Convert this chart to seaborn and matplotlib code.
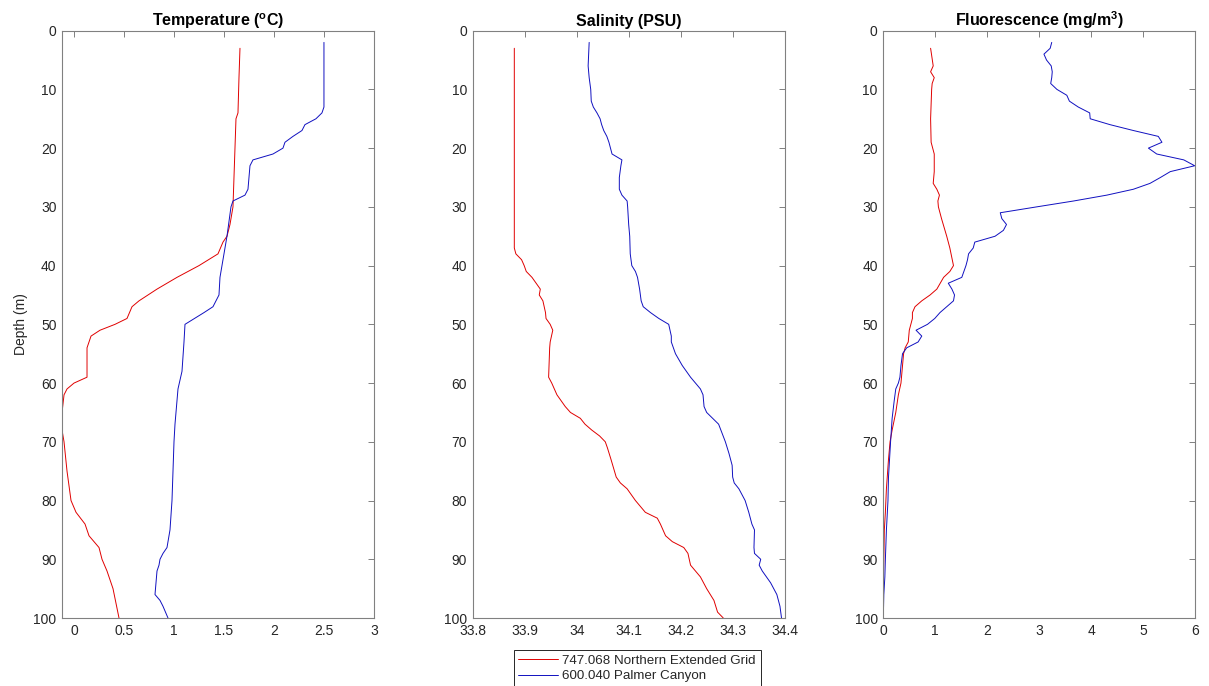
import matplotlib
matplotlib.use("Agg")
import matplotlib.pyplot as plt
import seaborn as sns

# ---------- data ----------
LABEL_N = "747.068 Northern Extended Grid"
LABEL_P = "600.040 Palmer Canyon"
COLOR_N = "#e00000"
COLOR_P = "#1010c0"

# Temperature (deg C)
temp_n_depth = [3, 8, 14, 15, 20, 25, 30, 33, 35, 36, 38, 40, 42, 44, 46, 47, 49, 50, 51, 52,
                54, 59, 60, 61, 62, 65, 68, 70, 75, 80, 82, 84, 86, 88, 90, 92, 95, 100]
temp_n = [1.66, 1.65, 1.64, 1.62, 1.61, 1.60, 1.59, 1.56, 1.53, 1.49, 1.44, 1.25, 1.03, 0.83, 0.65,
          0.58, 0.53, 0.41, 0.26, 0.17, 0.13, 0.13, 0.0, -0.07, -0.10, -0.12, -0.12, -0.10, -0.07,
          -0.03, 0.02, 0.11, 0.15, 0.25, 0.28, 0.33, 0.39, 0.45]
temp_p_depth = [2, 13, 14, 15, 16, 17, 18, 19, 20, 21, 22, 23, 27, 28, 29, 30, 35, 40, 42, 45,
                47, 48, 50, 53, 58, 61, 67, 70, 80, 85, 88, 89, 90, 91, 92, 96, 97, 98, 100]
temp_p = [2.50, 2.50, 2.48, 2.42, 2.31, 2.28, 2.19, 2.11, 2.09, 1.99, 1.79, 1.76, 1.74, 1.71, 1.59,
          1.57, 1.53, 1.48, 1.46, 1.45, 1.39, 1.30, 1.11, 1.10, 1.08, 1.04, 1.01, 1.00, 0.98, 0.96,
          0.93, 0.89, 0.86, 0.85, 0.83, 0.81, 0.86, 0.89, 0.94]

# Salinity (PSU)
sal_n_depth = [3, 37, 38, 39, 40, 41, 42, 43, 44, 45, 46, 48, 49, 50, 51, 53, 54, 59, 60, 62,
               64, 65, 66, 67, 68, 69, 70, 71, 73, 76, 77, 78, 80, 82, 83, 84, 86, 87, 88, 89,
               91, 93, 95, 97, 99, 100]
sal_n = [33.88, 33.88, 33.883, 33.894, 33.899, 33.903, 33.914, 33.922, 33.93, 33.928,
         33.935, 33.94, 33.941, 33.949, 33.954, 33.949, 33.948, 33.946, 33.952, 33.962,
         33.978, 33.988, 34.007, 34.016, 34.029, 34.044, 34.055, 34.059, 34.066, 34.076,
         34.084, 34.097, 34.113, 34.132, 34.155, 34.161, 34.171, 34.184, 34.206, 34.214,
         34.219, 34.238, 34.25, 34.264, 34.271, 34.282]
sal_p_depth = [2, 6, 8, 10, 12, 13, 14, 15, 16, 17, 18, 19, 20, 21, 22, 23, 25, 27, 28, 29,
               30, 33, 35, 38, 40, 41, 42, 44, 46, 47, 48, 49, 50, 52, 53, 55, 57, 59, 61, 62,
               64, 65, 67, 70, 72, 74, 76, 77, 78, 80, 82, 84, 85, 88, 89, 90, 91, 92, 94, 96,
               98, 100]
sal_p = [34.024, 34.022, 34.024, 34.027, 34.028, 34.032, 34.039, 34.045, 34.048, 34.052,
         34.058, 34.062, 34.065, 34.068, 34.087, 34.085, 34.082, 34.082, 34.087, 34.097,
         34.098, 34.100, 34.102, 34.103, 34.106, 34.113, 34.117, 34.121, 34.124, 34.128,
         34.142, 34.158, 34.177, 34.182, 34.182, 34.19, 34.203, 34.219, 34.238, 34.243,
         34.245, 34.25, 34.273, 34.286, 34.293, 34.299, 34.30, 34.303, 34.312, 34.324,
         34.331, 34.337, 34.342, 34.341, 34.342, 34.354, 34.351, 34.357, 34.373, 34.385,
         34.391, 34.394]

# Fluorescence (mg/m3)
fl_n_depth = [3, 6, 7, 8, 9, 10, 15, 19, 21, 24, 26, 27, 28, 29, 30, 32, 35, 37, 40, 41,
              42, 44, 45, 46, 47, 48, 49, 50, 51, 52, 53, 54, 55, 58, 60, 62, 65, 68, 70, 73,
              78, 82, 85, 90, 95, 100]
fl_n = [0.91, 0.96, 0.91, 0.98, 0.94, 0.93, 0.91, 0.92, 0.98, 0.98, 0.96, 1.03, 1.08, 1.05,
        1.06, 1.12, 1.22, 1.28, 1.35, 1.28, 1.16, 1.03, 0.90, 0.74, 0.61, 0.56, 0.56, 0.53,
        0.50, 0.49, 0.48, 0.42, 0.39, 0.36, 0.34, 0.29, 0.24, 0.17, 0.13, 0.10, 0.06, 0.04,
        0.02, 0.01, 0.0, 0.0]
fl_p_depth = [2, 3, 4, 5, 6, 7, 8, 9, 10, 11, 12, 13, 14, 15, 16, 17, 18, 19, 20, 21,
              22, 23, 24, 25, 26, 27, 28, 29, 30, 31, 32, 33, 34, 35, 36, 37, 38, 39, 40, 41,
              42, 43, 44, 45, 46, 47, 48, 49, 50, 51, 52, 53, 54, 55, 57, 59, 60, 61, 63, 66,
              70, 73, 76, 80, 85, 90, 93, 96, 100]
fl_p = [3.24, 3.21, 3.09, 3.14, 3.23, 3.25, 3.24, 3.22, 3.34, 3.53, 3.58, 3.75, 3.97, 3.98,
        4.36, 4.81, 5.29, 5.36, 5.10, 5.26, 5.78, 5.99, 5.52, 5.33, 5.13, 4.81, 4.30, 3.66,
        2.95, 2.25, 2.28, 2.37, 2.31, 2.15, 1.76, 1.73, 1.64, 1.62, 1.59, 1.55, 1.51, 1.25,
        1.32, 1.37, 1.35, 1.22, 1.09, 0.99, 0.85, 0.63, 0.74, 0.67, 0.45, 0.37, 0.34, 0.32,
        0.29, 0.24, 0.21, 0.17, 0.14, 0.12, 0.10, 0.09, 0.06, 0.04, 0.03, 0.01, 0.0]

# ---------- style ----------
sns.set_style("white")
plt.rcParams["font.family"] = ["Liberation Sans", "DejaVu Sans"]
plt.rcParams["mathtext.fontset"] = "custom"
plt.rcParams["mathtext.rm"] = "Liberation Sans:bold"

AX_COLOR = "#808080"
TXT_COLOR = "#262626"

fig = plt.figure(figsize=(12.09, 6.86), dpi=100)

panels = [
    # left, xlim, xticks, ticklabels, title, then the two profiles
    (0.0513, (-0.12, 3), [0, 0.5, 1, 1.5, 2, 2.5, 3],
     ["0", "0.5", "1", "1.5", "2", "2.5", "3"],
     r"Temperature ($\mathrm{^o}$C)",
     temp_n_depth, temp_n, temp_p_depth, temp_p),
    (0.3910, (33.8, 34.4), [33.8, 33.9, 34.0, 34.1, 34.2, 34.3, 34.4],
     ["33.8", "33.9", "34", "34.1", "34.2", "34.3", "34.4"],
     "Salinity (PSU)",
     sal_n_depth, sal_n, sal_p_depth, sal_p),
    (0.7306, (0, 6), [0, 1, 2, 3, 4, 5, 6],
     ["0", "1", "2", "3", "4", "5", "6"],
     r"Fluorescence (mg/m$\mathrm{^3}$)",
     fl_n_depth, fl_n, fl_p_depth, fl_p),
]

axes = []
for i, (left, xlim, xt, xtl, title, dn, vn, dp, vp) in enumerate(panels):
    ax = fig.add_axes([left, 0.0991, 0.2580, 0.8562])
    sns.lineplot(x=vn, y=dn, sort=False, estimator=None, color=COLOR_N,
                 linewidth=0.7, ax=ax, label=LABEL_N, legend=False)
    sns.lineplot(x=vp, y=dp, sort=False, estimator=None, color=COLOR_P,
                 linewidth=0.7, ax=ax, label=LABEL_P, legend=False)
    ax.set_xlim(*xlim)
    ax.set_ylim(100, 0)
    ax.set_xticks(xt)
    ax.set_xticklabels(xtl)
    ax.set_yticks(range(0, 101, 10))
    ax.set_title(title, fontsize=11.5, fontweight="bold", color="black", pad=3)
    ax.set_xlabel("")
    ax.set_ylabel("Depth (m)" if i == 0 else "", fontsize=10, color=TXT_COLOR)
    ax.tick_params(direction="in", length=4, width=0.7, color=AX_COLOR,
                   labelsize=10, labelcolor=TXT_COLOR, top=True, right=True, pad=4)
    for s in ax.spines.values():
        s.set_color(AX_COLOR)
        s.set_linewidth(0.8)
    axes.append(ax)

# legend sits under the middle panel and runs off the bottom edge, as in the original
handles, labels = axes[1].get_legend_handles_labels()
leg = fig.legend(handles, labels, loc="upper center", bbox_to_anchor=(0.527, 0.0525),
                 frameon=True, fancybox=False, edgecolor=TXT_COLOR, framealpha=1,
                 fontsize=9.6, handlelength=3.0, borderpad=0.35, labelspacing=0.22,
                 handletextpad=0.3, borderaxespad=0)
leg.get_frame().set_linewidth(0.7)
for line, c in zip(leg.get_lines(), [COLOR_N, COLOR_P]):
    line.set_color(c)
    line.set_linewidth(0.7)
for t in leg.get_texts():
    t.set_color(TXT_COLOR)

fig.savefig("out.png", dpi=100)
